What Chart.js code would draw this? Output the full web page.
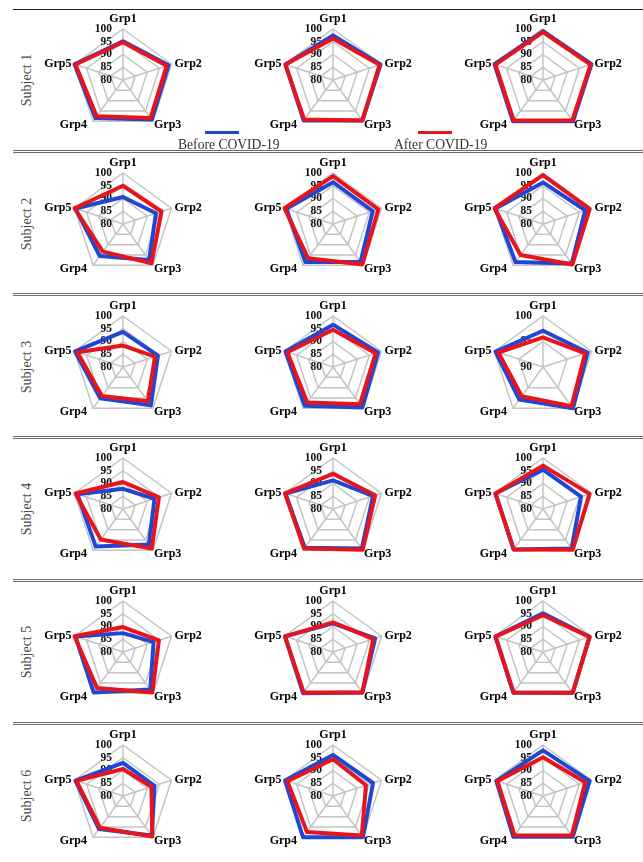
<!DOCTYPE html>
<html>
<head>
<meta charset="utf-8">
<script src="https://cdn.jsdelivr.net/npm/chart.js@4.4.1/dist/chart.umd.min.js"></script>
<style>
  body { margin: 0; background: #fff; }
  #page { position: relative; width: 643px; height: 862px; overflow: hidden; font-family: 'Liberation Serif', serif; }
  canvas { position: absolute; }
  .rule { position: absolute; left: 13px; right: 0; height: 0; border-top: 3px double #6b6b6b; }
  .top { position: absolute; left: 13px; right: 0; top: 9px; height: 0; border-top: 1px solid #222; }
  .subj { position: absolute; width: 80px; height: 16px; line-height: 16px; text-align: center; font-size: 14px; color: #4a4a4a; transform: rotate(-90deg); }
  .key { position: absolute; height: 3px; }
  .keytext { position: absolute; font-size: 13.6px; line-height: 15px; color: #333; white-space: nowrap; }
</style>
</head>
<body>
<div id="page"></div>
<script>
const groups = ['Grp1', 'Grp2', 'Grp3', 'Grp4', 'Grp5'];
const subjects = ['Subject 1', 'Subject 2', 'Subject 3', 'Subject 4', 'Subject 5', 'Subject 6'];
const seriesNames = ['Before COVID-19', 'After COVID-19'];
const axisMax = 100;
const axisStep = 5;
const axisMin = [[80, 80, 80], [80, 80, 80], [80, 80, 90], [80, 80, 80], [80, 80, 80], [80, 80, 80]];

// one array per subject, three panels each, values for Grp1..Grp5
const before1 = [[95.2, 98.8, 99.2, 98.4, 100], [97.5, 99.6, 99.6, 99.6, 99.6], [99.2, 100, 100, 100, 100]];
const after1 = [[94.8, 98, 98.4, 97.6, 99.6], [96.3, 99.2, 99.6, 99.2, 99.6], [98.8, 99.6, 99.6, 99.6, 99.6]];
const before2 = [[90.6, 93.6, 97.4, 95.5, 99.6], [96.4, 96.4, 98.4, 98.4, 99.2], [96.3, 97.4, 99.2, 98.4, 99.6]];
const after2 = [[95, 95.9, 99, 93.4, 100], [98.8, 98.7, 99.6, 96.6, 100], [99.2, 99.2, 99.6, 95, 100]];
const before3 = [[93.8, 94.4, 98.6, 95.2, 99.8], [96.6, 98.6, 99.6, 98.8, 99.6], [97.1, 99.2, 100, 97.9, 99.8]];
const after3 = [[88.4, 93.2, 96.6, 94.1, 98.8], [94.6, 97.6, 98, 97.2, 98.8], [95.8, 98.7, 99.5, 97.1, 99.2]];
const before4 = [[87.9, 93, 97.2, 98.2, 98.8], [91.2, 96.5, 99.2, 98.8, 99.6], [95.4, 95.7, 99.1, 99.6, 99.6]];
const after4 = [[90.6, 94.8, 99.2, 94.8, 99.6], [93.8, 97.4, 99.8, 99.2, 99.8], [97, 99.2, 99.8, 99.6, 99.6]];
const before5 = [[87.4, 92.6, 98.2, 99.6, 99.6], [91.2, 97.4, 99.6, 100, 99.8], [95.2, 99.2, 99.8, 99.8, 99.6]];
const after5 = [[89.8, 94.8, 99.6, 97.4, 100], [91.6, 96.6, 99.6, 99.6, 99.8], [94.4, 99.2, 99.8, 99.6, 99.6]];
const before6 = [[93, 93, 99.2, 96, 99.6], [96.1, 96.5, 100, 100, 99.8], [97.9, 99.2, 99.8, 99.8, 99.2]];
const after6 = [[90.6, 91.7, 99.6, 95.4, 99.2], [94.4, 93.6, 99.2, 97.4, 98.8], [95.2, 97.4, 99.2, 99, 98.8]];

const beforeAll = [before1, before2, before3, before4, before5, before6];
const afterAll = [after1, after2, after3, after4, after5, after6];

const blue = '#1f47d6';
const red = '#e8141c';
const colX = [123, 333, 543];
const rowY = [80, 224, 367, 509, 652, 796];
const ruleY = [151, 294, 437, 580, 723];

const page = document.getElementById('page');

const labelPlace = [
  { dx: 0, dy: -10, align: 'center' },
  { dx: 3, dy: 0, align: 'left' },
  { dx: 1, dy: 4, align: 'left' },
  { dx: -6, dy: 4, align: 'right' },
  { dx: -3, dy: 0, align: 'right' }
];

const radarText = {
  id: 'radarText',
  beforeDatasetsDraw(chart) {
    const r = chart.scales.r;
    const ctx = chart.ctx;
    ctx.save();
    ctx.font = 'bold 11.5px "Liberation Serif"';
    ctx.fillStyle = '#111';
    ctx.textAlign = 'right';
    ctx.textBaseline = 'middle';
    r.ticks.forEach(t => {
      const y = r.yCenter - r.getDistanceFromCenterForValue(t.value);
      ctx.fillText(t.label, r.xCenter - 11, y);
    });
    ctx.restore();
  },
  afterDatasetsDraw(chart) {
    const r = chart.scales.r;
    const ctx = chart.ctx;
    ctx.save();
    ctx.font = 'bold 12px "Liberation Serif"';
    ctx.fillStyle = '#000';
    ctx.textBaseline = 'middle';
    groups.forEach((g, i) => {
      const p = r.getPointPosition(i, r.drawingArea);
      const o = labelPlace[i];
      ctx.textAlign = o.align;
      ctx.fillText(g, p.x + o.dx, p.y + o.dy);
    });
    ctx.restore();
  }
};

function makePanel(row, col) {
  const cv = document.createElement('canvas');
  cv.width = 210;
  cv.height = 150;
  cv.style.left = (colX[col] - 105) + 'px';
  cv.style.top = (rowY[row] - 75) + 'px';
  page.appendChild(cv);
  new Chart(cv.getContext('2d'), {
    type: 'radar',
    data: {
      labels: groups,
      datasets: [
        { label: seriesNames[0], data: beforeAll[row][col], borderColor: blue, borderWidth: 4, fill: false, pointRadius: 0, order: 1 },
        { label: seriesNames[1], data: afterAll[row][col], borderColor: red, borderWidth: 4, fill: false, pointRadius: 0, order: 0 }
      ]
    },
    options: {
      responsive: false,
      animation: false,
      layout: { padding: { left: 54, right: 54, top: 24, bottom: 24 } },
      elements: { line: { tension: 0, borderJoinStyle: 'round' } },
      plugins: { legend: { display: false }, tooltip: { enabled: false } },
      scales: {
        r: {
          min: axisMin[row][col],
          max: axisMax,
          ticks: { display: false, stepSize: axisStep },
          pointLabels: { display: false },
          grid: { color: '#c4c4c4', lineWidth: 1.5 },
          angleLines: { color: '#c4c4c4', lineWidth: 1.5 }
        }
      }
    },
    plugins: [radarText]
  });
}

document.addEventListener('DOMContentLoaded', () => {
  const top = document.createElement('div');
  top.className = 'top';
  page.appendChild(top);
  ruleY.forEach(y => {
    const d = document.createElement('div');
    d.className = 'rule';
    d.style.top = (y - 1) + 'px';
    page.appendChild(d);
  });
  subjects.forEach((s, i) => {
    const d = document.createElement('div');
    d.className = 'subj';
    d.textContent = s;
    d.style.left = (27 - 40) + 'px';
    d.style.top = (rowY[i] - 8) + 'px';
    page.appendChild(d);
    for (let c = 0; c < 3; c++) makePanel(i, c);
  });

  // legend sits in the first row, line above the text
  const keys = [
    { color: blue, lineX: 205, textX: 178 },
    { color: red, lineX: 418, textX: 394 }
  ];
  keys.forEach((k, i) => {
    const ln = document.createElement('div');
    ln.className = 'key';
    ln.style.left = k.lineX + 'px';
    ln.style.top = '131px';
    ln.style.width = '34px';
    ln.style.background = k.color;
    page.appendChild(ln);
    const tx = document.createElement('div');
    tx.className = 'keytext';
    tx.style.left = k.textX + 'px';
    tx.style.top = '137px';
    tx.textContent = seriesNames[i];
    page.appendChild(tx);
  });
});
</script>
</body>
</html>
